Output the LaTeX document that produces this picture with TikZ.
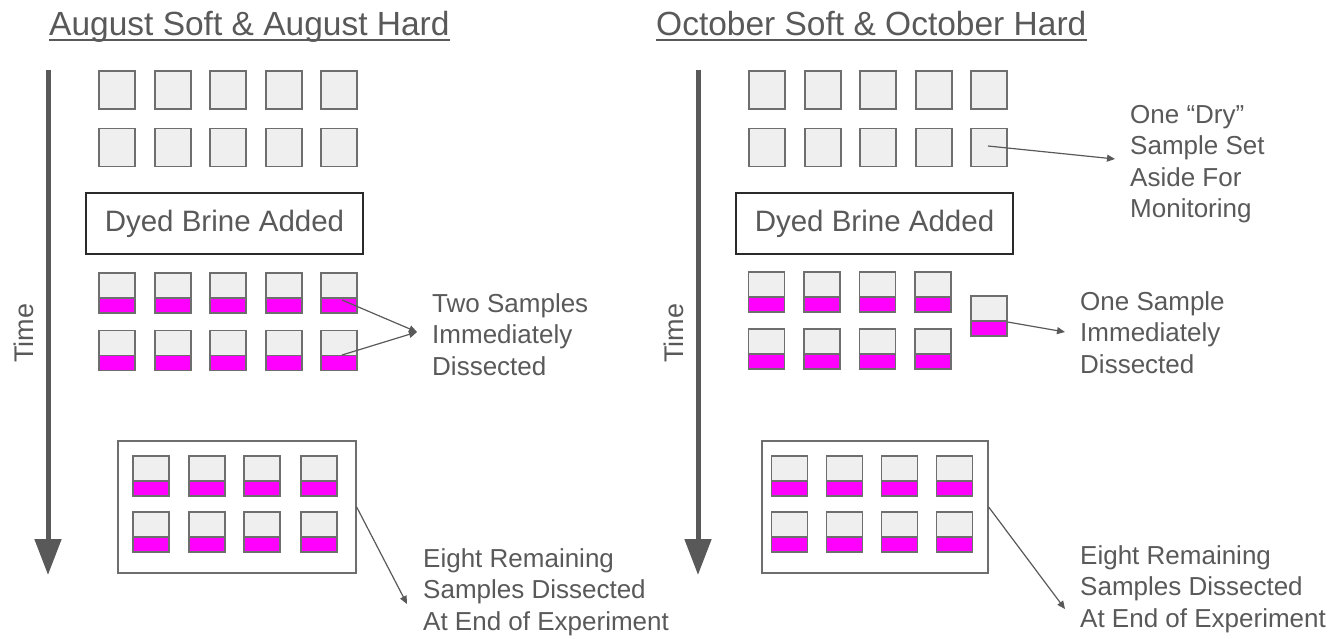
\documentclass[tikz,border=0pt]{standalone}
\usepackage{fontspec}
\setmainfont{Liberation Sans}
\usetikzlibrary{arrows.meta}
\definecolor{txt}{HTML}{595959}
\definecolor{sqfill}{HTML}{EFEFEF}
\definecolor{sqline}{HTML}{6E6E6E}
\definecolor{mag}{HTML}{FF00FF}
\definecolor{boxline}{HTML}{2A2A2A}
\begin{document}
\begin{tikzpicture}[x=1pt,y=-1pt,
  title/.style={inner sep=0pt, anchor=base west, text=txt, font=\fontsize{33.5}{40}\selectfont},
  lbl/.style={inner sep=0pt, anchor=base west, text=txt, font=\fontsize{26}{31.5}\selectfont},
  timelbl/.style={inner sep=0pt, rotate=90, text=txt, font=\fontsize{27}{32}\selectfont},
  sq/.style={draw=sqline, fill=sqfill, line width=1.3pt, inner sep=0pt, minimum width=36pt},
  drysq/.style={sq, minimum height=38pt},
  wetsq/.style={sq, minimum height=40pt,
    path picture={\fill[mag] (path picture bounding box.south west) rectangle ([yshift=15pt]path picture bounding box.south east);
      \draw[sqline, line width=1.3pt] ([yshift=15pt]path picture bounding box.south west) -- ([yshift=15pt]path picture bounding box.south east);}},
  stagebox/.style={draw=boxline, line width=1.5pt, inner sep=0pt, minimum width=277pt, minimum height=61pt, text=txt, font=\fontsize{29.5}{35}\selectfont},
  groupbox/.style={draw=sqline, line width=1.3pt, inner sep=0pt, minimum height=132pt},
  timearrow/.style={draw=txt, line width=5pt, -{Triangle[width=26pt,length=36pt]}},
  conn/.style={draw=txt, line width=1.2pt, -{Triangle[width=7pt,length=8pt]}},
  uline/.style={draw=txt, line width=2.5pt}
]
\useasboundingbox (0,0) rectangle (1340,638);

% ---------- Left panel ----------
\node[title] (titleL) at (49,35) {August Soft \& August Hard};
\draw[uline] ([yshift=-5pt]titleL.base west) -- ([yshift=-5pt]titleL.base east);

\coordinate (tsL) at (48,70);
\coordinate (teL) at (48,575);
\draw[timearrow] (tsL) -- (teL);
\node[timelbl] (timeL) at (24,333) {Time};

\foreach \i/\x in {1/117,2/173,3/228,4/284,5/339}{
  \node[drysq] (ldA\i) at (\x,90) {};
  \node[drysq] (ldB\i) at (\x,147.5) {};
  \node[wetsq] (lwA\i) at (\x,293) {};
  \node[wetsq] (lwB\i) at (\x,350.5) {};
}
\node[stagebox] (dyeL) at (224.5,223.5) {Dyed Brine Added};

\node[lbl] (twoL) at (432,312) {\begin{tabular}[t]{@{}l@{}}Two Samples\\Immediately\\Dissected\end{tabular}};
\coordinate (cTwo) at (417,332);
\draw[conn] ([xshift=3pt,yshift=-7pt]lwA5.center) -- (cTwo);
\draw[conn] ([xshift=3pt,yshift=-4.5pt]lwB5.center) -- (cTwo);

\node[groupbox, minimum width=238pt] (grpL) at (237,507) {};
\foreach \i/\x in {1/151,2/207,3/262,4/319}{
  \node[wetsq] (lgA\i) at (\x,476) {};
  \node[wetsq] (lgB\i) at (\x,532) {};
}
\node[lbl] (eightL) at (423,567) {\begin{tabular}[t]{@{}l@{}}Eight Remaining\\Samples Dissected\\At End of Experiment\end{tabular}};
\coordinate (cEL) at (407,604);
\draw[conn] (grpL.east) -- (cEL);

% ---------- Right panel ----------
\node[title] (titleR) at (656,35) {October Soft \& October Hard};
\draw[uline] ([yshift=-5pt]titleR.base west) -- ([yshift=-5pt]titleR.base east);

\coordinate (tsR) at (698,70);
\coordinate (teR) at (698,575);
\draw[timearrow] (tsR) -- (teR);
\node[timelbl] (timeR) at (674,333) {Time};

\foreach \i/\x in {1/767,2/823,3/878,4/934,5/989}{
  \node[drysq] (rdA\i) at (\x,90) {};
  \node[drysq] (rdB\i) at (\x,147.5) {};
}
\node[lbl] (dryR) at (1130,123) {\begin{tabular}[t]{@{}l@{}}One “Dry”\\Sample Set\\Aside For\\Monitoring\end{tabular}};
\coordinate (cDry) at (1115,159);
\draw[conn] ([xshift=-1pt,yshift=1.5pt]rdB5.center) -- (cDry);

\node[stagebox] (dyeR) at (874.5,223.5) {Dyed Brine Added};

\foreach \i/\x in {1/766.5,2/822,3/877.5,4/933}{
  \node[wetsq] (rwA\i) at (\x,292) {};
  \node[wetsq] (rwB\i) at (\x,349) {};
}
\node[wetsq] (rwS) at (989,316) {};
\node[lbl] (oneR) at (1080,310) {\begin{tabular}[t]{@{}l@{}}One Sample\\Immediately\\Dissected\end{tabular}};
\coordinate (cOne) at (1065,332);
\draw[conn] ([yshift=-6pt]rwS.east) -- (cOne);

\node[groupbox, minimum width=226pt] (grpR) at (875,507) {};
\foreach \i/\x in {1/789.5,2/844.5,3/899.5,4/954.5}{
  \node[wetsq] (rgA\i) at (\x,476) {};
  \node[wetsq] (rgB\i) at (\x,532) {};
}
\node[lbl] (eightR) at (1080,564) {\begin{tabular}[t]{@{}l@{}}Eight Remaining\\Samples Dissected\\At End of Experiment\end{tabular}};
\coordinate (cER) at (1065,609);
\draw[conn] (grpR.east) -- (cER);
\end{tikzpicture}
\end{document}
